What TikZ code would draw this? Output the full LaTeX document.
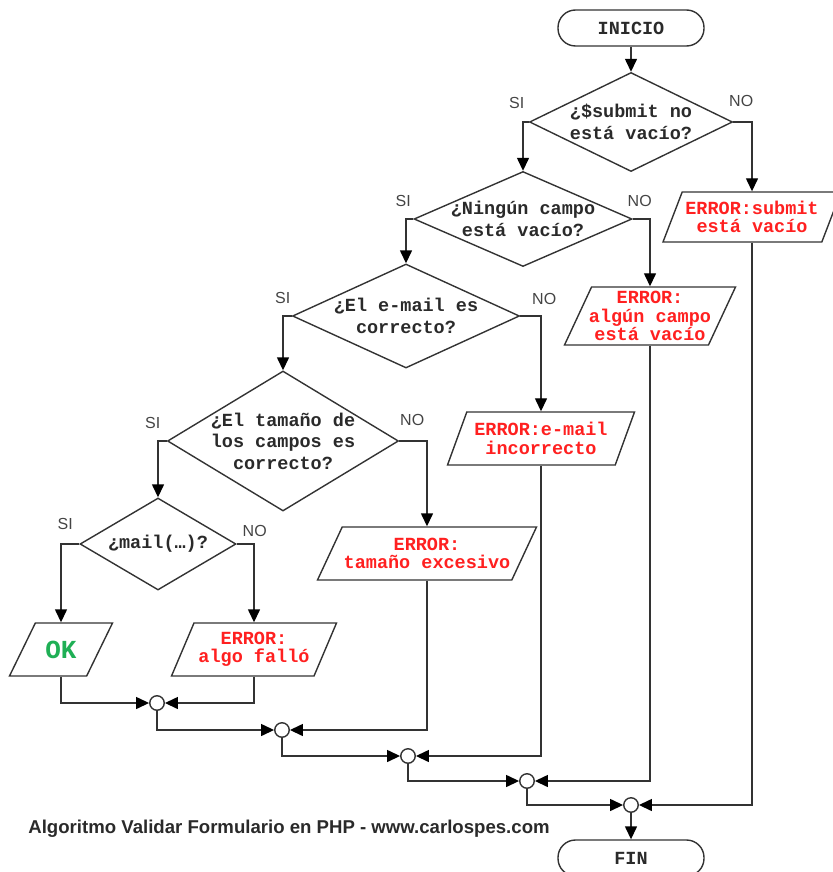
\documentclass[tikz,border=0pt]{standalone}
\usepackage{fontspec}
\setmainfont{Liberation Sans}
\setmonofont{Liberation Mono}
\usetikzlibrary{shapes.geometric,arrows.meta}
\definecolor{lnc}{HTML}{333333}
\definecolor{txc}{HTML}{2A2A2A}
\definecolor{erc}{HTML}{FF2020}
\definecolor{okc}{HTML}{1FAF55}
\definecolor{lbc}{HTML}{444444}
\begin{document}
\begin{tikzpicture}[x=1pt,y=-1pt,
  mono/.style={font=\fontsize{18.5}{22}\selectfont\ttfamily\bfseries},
  dec/.style={diamond, draw=lnc, line width=1.4pt, inner sep=0pt},
  io/.style 2 args={trapezium, trapezium left angle=#1, trapezium right angle=#2,
     trapezium stretches body, draw=lnc, line width=1.4pt, inner sep=0pt},
  term/.style={rectangle, rounded corners=17.5pt, draw=lnc, line width=1.4pt,
     minimum width=146pt, minimum height=36pt, inner sep=0pt, mono, text=txc},
  dtxt/.style={mono, text=txc, align=center, inner sep=0pt},
  etxt/.style={font=\fontsize{18.5}{18.5}\selectfont\ttfamily\bfseries, text=erc, align=center, inner sep=0pt},
  lbl/.style={font=\fontsize{16}{18}\selectfont, text=lbc, inner sep=0pt},
  junc/.style={circle, draw=lnc, fill=white, minimum size=14.5pt, inner sep=0pt, line width=1.4pt},
  arr/.style={draw=lnc, line width=1.4pt, -{Triangle[length=13pt,width=12pt,color=black]}},
  wire/.style={draw=lnc, line width=1.4pt}
]
\useasboundingbox (0,0) rectangle (832,872);

% terminals
\node[term] (ini) at (631,28) {INICIO};
\node[term] (fin) at (631,858) {FIN};

% decisions
\node[dec, minimum width=203pt, minimum height=99pt] (d1) at (631,122) {};
\node[dtxt] (t1) at (d1) {¿\$submit no\\está vacío?};
\node[dec, minimum width=218pt, minimum height=95pt] (d2) at (523,219) {};
\node[dtxt] (t2) at (d2) {¿Ningún campo\\está vacío?};
\node[dec, minimum width=227pt, minimum height=104pt] (d3) at (406,316) {};
\node[dtxt] (t3) at (d3) {¿El e-mail es\\correcto?};
\node[dec, minimum width=231pt, minimum height=140pt] (d4) at (283,441) {};
\node[dtxt, font=\fontsize{18.5}{21.5}\selectfont\ttfamily\bfseries] (t4) at (d4) {¿El tamaño de\\los campos es\\correcto?};
\node[dec, minimum width=156pt, minimum height=92pt] (d5) at (158,544) {};
\node[dtxt] (t5) at (d5) {¿mail(…)?};

% outputs
\node[io={69}{111}, text height=25pt, text depth=25pt, minimum width=178pt] (e1) at (752,217) {};
\node[etxt] (te1) at (e1) {ERROR:submit\\está vacío};
\node[io={65}{115}, text height=29pt, text depth=29pt, minimum width=171pt] (e2) at (650,316) {};
\node[etxt] (te2) at (e2) {ERROR:\\algún campo\\está vacío};
\node[io={70}{110}, text height=26.5pt, text depth=26.5pt, minimum width=187pt] (e3) at (541,438.5) {};
\node[etxt] (te3) at (e3) {ERROR:e-mail\\incorrecto};
\node[io={65}{115}, text height=26.5pt, text depth=26.5pt, minimum width=219pt] (e4) at (427,553.5) {};
\node[etxt] (te4) at (e4) {ERROR:\\tamaño excesivo};
\node[io={64}{116}, text height=26.5pt, text depth=26.5pt, minimum width=103pt] (ok) at (61,649.5) {};
\node[text=okc, inner sep=0pt, font=\fontsize{26}{28}\selectfont\ttfamily\bfseries] (tok) at (ok) {OK};
\node[io={67}{113}, text height=26.5pt, text depth=26.5pt, minimum width=165pt] (e5) at (254,649.5) {};
\node[etxt] (te5) at (e5) {ERROR:\\algo falló};

% junctions
\node[junc] (c1) at (157,703) {};
\node[junc] (c2) at (282,730) {};
\node[junc] (c3) at (408,756) {};
\node[junc] (c4) at (527,781) {};
\node[junc] (c5) at (631,805) {};

% SI / NO labels
\node[lbl] (s1) at ([shift={(-12,-19)}]d1.west) {SI};
\node[lbl] (n1) at ([shift={(8,-21)}]d1.east) {NO};
\node[lbl] (s2) at ([shift={(-10,-18)}]d2.west) {SI};
\node[lbl] (n2) at ([shift={(7,-18)}]d2.east) {NO};
\node[lbl] (s3) at ([shift={(-9,-18)}]d3.west) {SI};
\node[lbl] (n3) at ([shift={(24,-17)}]d3.east) {NO};
\node[lbl] (s4) at ([shift={(-14,-18)}]d4.west) {SI};
\node[lbl] (n4) at ([shift={(13,-21)}]d4.east) {NO};
\node[lbl] (s5) at ([shift={(-14,-20)}]d5.west) {SI};
\node[lbl] (n5) at ([shift={(18,-13)}]d5.east) {NO};

% flow
\draw[arr] (ini) -- (d1);
\draw[arr] (d1.west) -| (d2.north);
\draw[arr] (d1.east) -| (e1.north);
\draw[arr] (d2.west) -| (d3.north);
\draw[arr] (d2.east) -| (e2.north);
\draw[arr] (d3.west) -| (d4.north);
\draw[arr] (d3.east) -| (e3.north);
\draw[arr] (d4.west) -| (d5.north);
\draw[arr] (d4.east) -| (e4.north);
\draw[arr] (d5.west) -| (ok.north);
\draw[arr] (d5.east) -| (e5.north);

\draw[arr] (ok.south) |- (c1.west);
\draw[arr] (e5.south) |- (c1.east);
\draw[arr] (c1.south) |- (c2.west);
\draw[arr] (e4.south) |- (c2.east);
\draw[arr] (c2.south) |- (c3.west);
\draw[arr] (e3.south) |- (c3.east);
\draw[arr] (c3.south) |- (c4.west);
\draw[arr] (e2.south) |- (c4.east);
\draw[arr] (c4.south) |- (c5.west);
\draw[arr] (e1.south) |- (c5.east);
\draw[arr] (c5.south) -- (fin.north);

% title
\node[font=\fontsize{18.6}{22}\selectfont\bfseries, text=txc, inner sep=0pt] (title) at (289,829) {Algoritmo Validar Formulario en PHP - www.carlospes.com};
\end{tikzpicture}
\end{document}
